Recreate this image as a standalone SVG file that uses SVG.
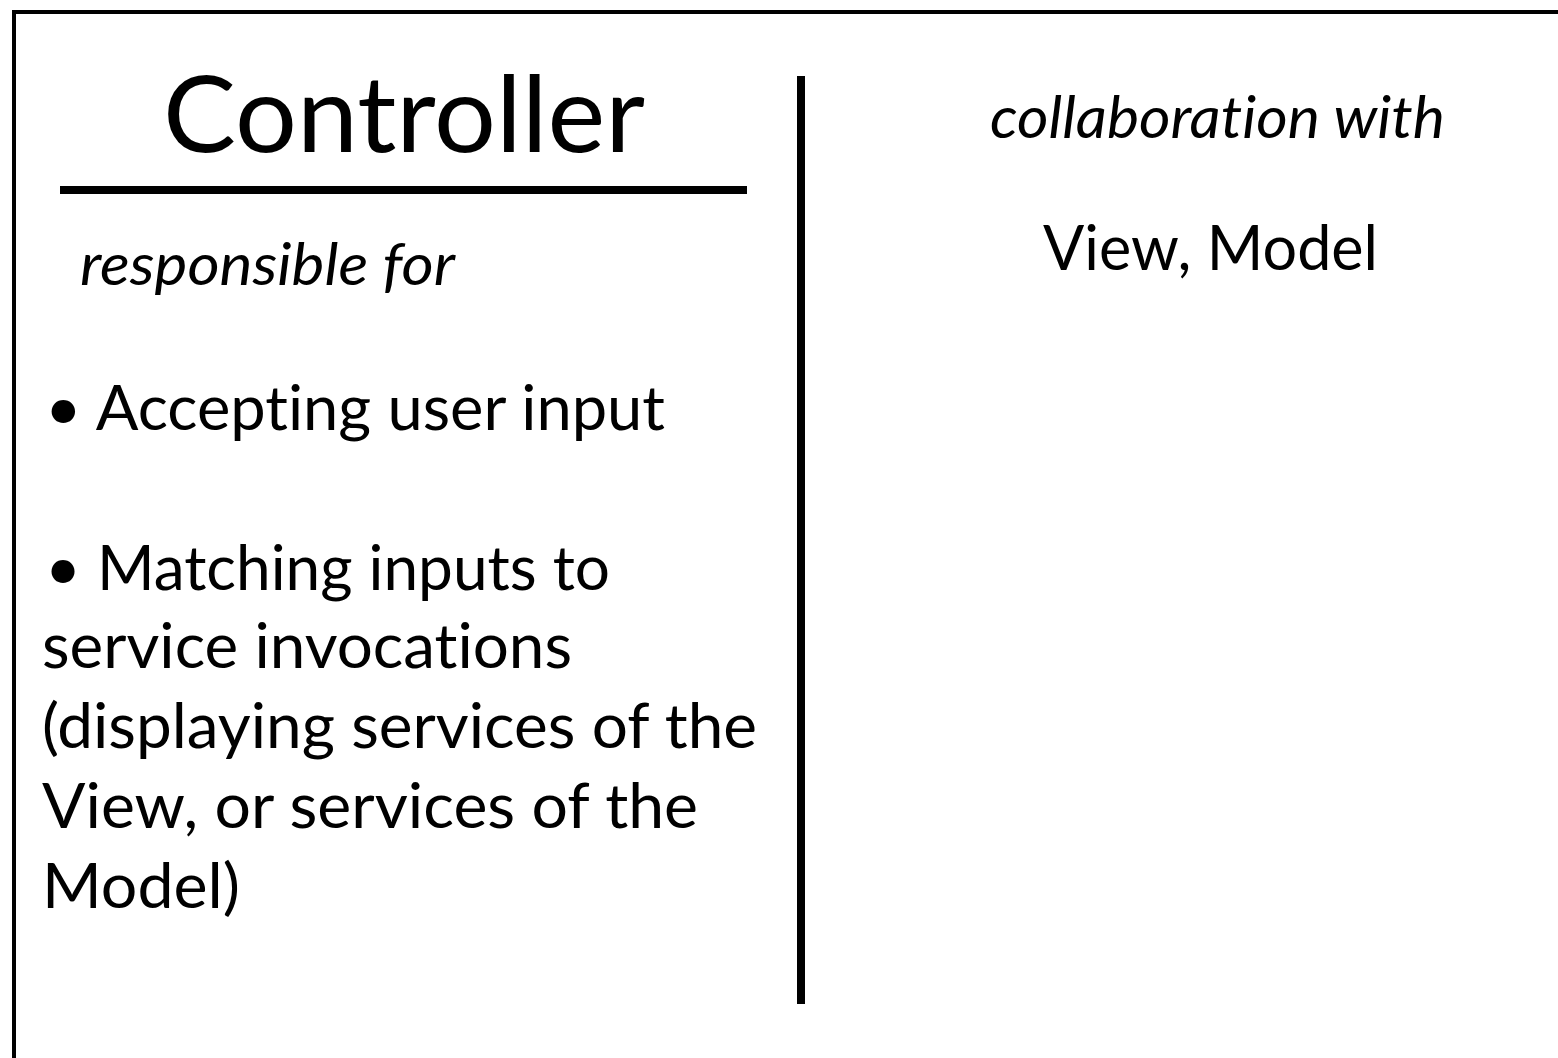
<svg xmlns="http://www.w3.org/2000/svg" width="1558" height="1058" viewBox="0 0 1558 1058">
<style>
.t{font-family:Lato,"Open Sans","Liberation Sans",sans-serif;fill:#000;font-variant-ligatures:none;font-feature-settings:"liga" 0,"clig" 0,"dlig" 0}
.b{font-size:62px}
.i{font-size:58px;font-style:italic}
.ln{stroke:#000;fill:none}
</style>
<rect x="0" y="0" width="1558" height="1058" fill="#fff"/>
<g id="card">
<path class="ln" d="M14,1070 V12 H1570" stroke-width="4"/>
</g>
<g id="connectors">
<line class="ln" x1="60" y1="190" x2="747" y2="190" stroke-width="8"/>
<line class="ln" x1="801" y1="76" x2="801" y2="1004" stroke-width="8"/>
</g>
<g id="title">
<text class="t" x="163" y="152" font-size="106" textLength="482" lengthAdjust="spacingAndGlyphs">Controller</text>
</g>
<g id="responsibilities">
<text class="t i" x="80" y="285" textLength="375" lengthAdjust="spacingAndGlyphs">responsible for</text>
<text class="t b" x="45" y="430" textLength="620" lengthAdjust="spacingAndGlyphs">• Accepting user input</text>
<text class="t b" x="45" y="590" textLength="565" lengthAdjust="spacingAndGlyphs">•  Matching inputs to</text>
<text class="t b" x="42" y="668" textLength="530" lengthAdjust="spacingAndGlyphs">service invocations</text>
<text class="t b" x="42" y="748" textLength="715" lengthAdjust="spacingAndGlyphs">(displaying services of the</text>
<text class="t b" x="42" y="828" textLength="656" lengthAdjust="spacingAndGlyphs">View, or services of the</text>
<text class="t b" x="42" y="908" textLength="198" lengthAdjust="spacingAndGlyphs">Model)</text>
</g>
<g id="collaborators">
<text class="t i" x="990" y="138" textLength="455" lengthAdjust="spacingAndGlyphs">collaboration with</text>
<text class="t b" x="1043" y="270" textLength="335" lengthAdjust="spacingAndGlyphs">View, Model</text>
</g>
</svg>
